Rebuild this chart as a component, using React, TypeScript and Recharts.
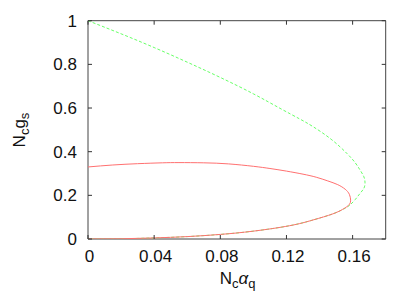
import React from 'react';
import { LineChart, Line, XAxis, YAxis, ReferenceArea } from 'recharts';

const xTicks = [0, 0.04, 0.08, 0.12, 0.16];
const yTicks = [0, 0.2, 0.4, 0.6, 0.8, 1];

const redX = [0, 0.015, 0.03, 0.045, 0.055, 0.07, 0.085, 0.1, 0.11, 0.12, 0.13, 0.138, 0.145, 0.151, 0.1555, 0.158, 0.1588, 0.1582, 0.1565, 0.154, 0.148, 0.136, 0.122, 0.1, 0.08, 0.06, 0.04, 0.02, 0];
const redY = [0.33, 0.339, 0.345, 0.349, 0.35, 0.349, 0.344, 0.333, 0.323, 0.311, 0.297, 0.283, 0.266, 0.249, 0.228, 0.205, 0.178, 0.16, 0.148, 0.136, 0.115, 0.087, 0.061, 0.036, 0.021, 0.011, 0.005, 0.001, 0];

const greenX = [0, 0.02, 0.04, 0.06, 0.08, 0.1, 0.116, 0.128, 0.1362, 0.147, 0.1564, 0.1615, 0.1645, 0.1668, 0.1675, 0.1668, 0.1645, 0.1615, 0.1584, 0.1555, 0.148, 0.136, 0.122, 0.1, 0.08, 0.06, 0.04, 0.02, 0];
const greenY = [1, 0.94, 0.877, 0.81, 0.74, 0.665, 0.599, 0.55, 0.514, 0.457, 0.393, 0.35, 0.316, 0.285, 0.257, 0.232, 0.209, 0.18, 0.156, 0.141, 0.115, 0.087, 0.061, 0.036, 0.021, 0.011, 0.005, 0.001, 0];

const toPoints = (xs: number[], ys: number[]) => xs.map((x, i) => ({ x, y: ys[i] }));
const redData = toPoints(redX, redY);
const greenData = toPoints(greenX, greenY);

const W = 407;
const H = 283;
const X_AXIS_H = 52;
const Y_AXIS_W = 80;
const M = { top: 12.7, right: 29.3, bottom: 0, left: 0 };
const plotTop = M.top;
const plotBottom = H - X_AXIS_H;
const plotLeft = Y_AXIS_W;
const plotRight = W - M.right;
const FONT = '"Liberation Sans", Arial, Helvetica, sans-serif';
const TICK = '#333';

const XTick = (props: any) => {
  const { x, payload } = props;
  return (
    <g>
      <line x1={x} x2={x} y1={plotBottom} y2={plotBottom - 4} stroke={TICK} strokeWidth={1} />
      <line x1={x} x2={x} y1={plotTop} y2={plotTop + 4} stroke={TICK} strokeWidth={1} />
      <text x={x + 1.5} y={plotBottom + 22.5} textAnchor="middle" fontFamily={FONT} fontSize={17} fill="#111">
        {String(payload.value)}
      </text>
    </g>
  );
};

const YTick = (props: any) => {
  const { y, payload } = props;
  return (
    <g>
      <line x1={plotLeft} x2={plotLeft + 4} y1={y} y2={y} stroke={TICK} strokeWidth={1} />
      <line x1={plotRight} x2={plotRight - 4} y1={y} y2={y} stroke={TICK} strokeWidth={1} />
      <text x={plotLeft - 11} y={y + 6} textAnchor="end" fontFamily={FONT} fontSize={17} fill="#111">
        {String(payload.value)}
      </text>
    </g>
  );
};

const XLabel = () => (
  <text x={229.5} y={276} textAnchor="middle" fontFamily={FONT} fontSize={17} fill="#111">
    N<tspan fontSize={13} dy={3.5}>c</tspan>
    <tspan fontSize={17} dy={-3.5} fontStyle="italic">α</tspan>
    <tspan fontSize={13} dy={3.5}>q</tspan>
  </text>
);

const YLabel = () => (
  <text
    x={17}
    y={122}
    transform="rotate(-90, 17, 122)"
    textAnchor="middle"
    fontFamily={FONT}
    fontSize={17}
    fill="#111"
  >
    N<tspan fontSize={13} dy={4}>c</tspan>
    <tspan fontSize={17} dy={-4}>g</tspan>
    <tspan fontSize={13} dy={4}>s</tspan>
  </text>
);

export default function App() {
  return (
    <LineChart width={W} height={H} margin={M}>
      <XAxis
        type="number"
        dataKey="x"
        domain={[0, 0.18]}
        ticks={xTicks}
        allowDataOverflow
        height={X_AXIS_H}
        axisLine={false}
        tickLine={false}
        tick={(p: any) => <XTick {...p} />}
        interval={0}
        label={{ content: () => <XLabel /> }}
      />
      <YAxis
        type="number"
        dataKey="y"
        domain={[0, 1]}
        ticks={yTicks}
        allowDataOverflow
        width={Y_AXIS_W}
        axisLine={false}
        tickLine={false}
        tick={(p: any) => <YTick {...p} />}
        interval={0}
        label={{ content: () => <YLabel /> }}
      />
      <ReferenceArea x1={0} x2={0.18} y1={0} y2={1} fill="none" stroke="#444" strokeWidth={1} ifOverflow="visible" />
      <Line
        data={greenData}
        dataKey="y"
        type="natural"
        stroke="#66ff66"
        strokeWidth={1}
        strokeDasharray="3 2"
        dot={false}
        isAnimationActive={false}
      />
      <Line
        data={redData}
        dataKey="y"
        type="natural"
        stroke="#ff7070"
        strokeWidth={1}
        dot={false}
        isAnimationActive={false}
      />
    </LineChart>
  );
}
